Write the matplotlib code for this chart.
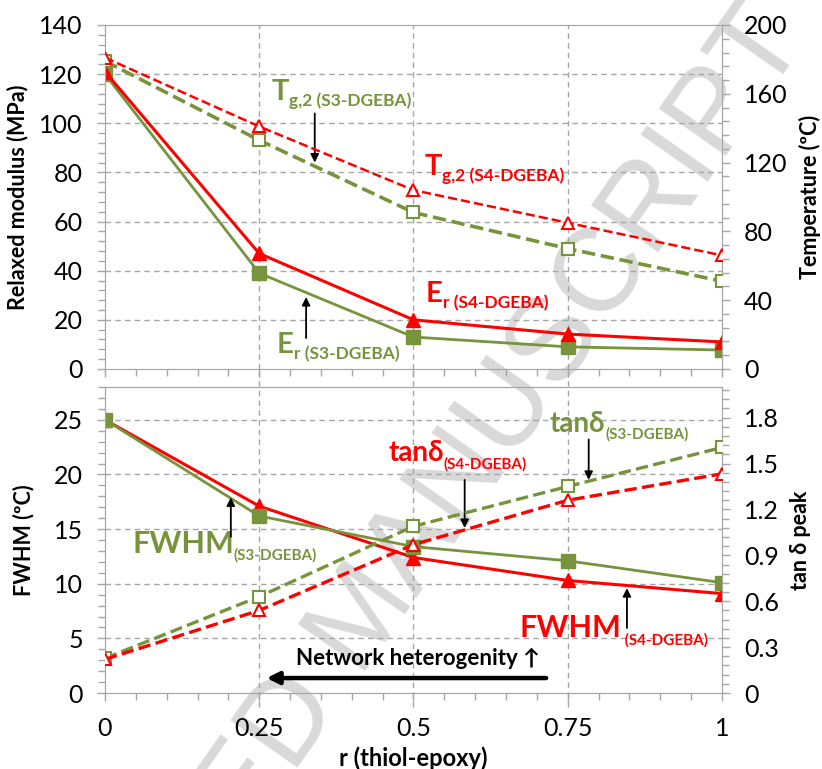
import numpy as np
import matplotlib
matplotlib.use("Agg")
import matplotlib.pyplot as plt
from matplotlib.ticker import AutoMinorLocator, MultipleLocator, FixedLocator

plt.rcParams['font.family'] = ['Lato', 'DejaVu Sans']

GREEN = '#77933C'
RED = '#FF0000'
GRID = '#A6A6A6'

r = [0, 0.25, 0.5, 0.75, 1]
r_labels = ['0', '0.25', '0.5', '0.75', '1']

# top panel
Er_S3 = [120, 39, 13, 9.0, 7.7]
Er_S4 = [121, 47, 20, 14.2, 11]
Tg2_S3 = [179, 133, 91, 70, 51]
Tg2_S4 = [181, 141, 104, 85, 66]

# bottom panel
FWHM_S3 = [25.0, 16.2, 13.4, 12.1, 10.1]
FWHM_S4 = [25.0, 17.1, 12.4, 10.3, 9.1]
tand_S3 = [0.227, 0.63, 1.09, 1.35, 1.605]
tand_S4 = [0.22, 0.54, 0.97, 1.26, 1.433]

fig = plt.figure(figsize=(8.22, 7.69), dpi=100)
ax1 = fig.add_axes([0.1277, 0.5202, 0.7506, 0.4473])
ax3 = fig.add_axes([0.1277, 0.0988, 0.7506, 0.3979])
ax2 = ax1.twinx()
ax4 = ax3.twinx()
for a in (ax1, ax2, ax3, ax4):
    a.set_facecolor('none')
    for s in a.spines.values():
        s.set_color(GRID)
    a.tick_params(colors=GRID, labelcolor='black', labelsize=18, width=1, length=6, pad=10)
    a.tick_params(which='minor', colors=GRID, width=1, length=5)

# watermark
ax1.text(0.445, 0.196, 'ACCEPTED MANUSCRIPT', transform=fig.transFigure, rotation=55,
         ha='center', va='center', rotation_mode='anchor', fontsize=85,
         color='#D9D9D9', family=['Liberation Sans'], zorder=0.1, clip_on=False)

# axes limits / ticks
for a in (ax1, ax3):
    a.set_xlim(0, 1)
    a.xaxis.set_major_locator(FixedLocator(r))
    a.xaxis.set_minor_locator(MultipleLocator(0.05))
ax1.set_ylim(0, 140)
ax1.yaxis.set_major_locator(MultipleLocator(20))
ax1.yaxis.set_minor_locator(AutoMinorLocator(5))
ax2.set_ylim(0, 200)
ax2.yaxis.set_major_locator(MultipleLocator(40))
ax2.yaxis.set_minor_locator(AutoMinorLocator(5))
ax3.set_ylim(0, 28)
ax3.yaxis.set_major_locator(FixedLocator([0, 5, 10, 15, 20, 25]))
ax3.yaxis.set_minor_locator(MultipleLocator(1))
ax4.set_ylim(0, 2.0)
ax4.yaxis.set_major_locator(FixedLocator([0, 0.3, 0.6, 0.9, 1.2, 1.5, 1.8]))
ax4.yaxis.set_minor_locator(MultipleLocator(0.06))
ax4.set_yticklabels(['0', '0.3', '0.6', '0.9', '1.2', '1.5', '1.8'])

ax1.tick_params(axis='x', labelbottom=False)
ax3.set_xticks(r, r_labels)
ax3.tick_params(axis='x', pad=11)

# grid
for y in range(20, 140, 20):
    ax1.axhline(y, color=GRID, ls=(0, (4, 3)), lw=1, zorder=0.5)
for y in [5, 10, 15, 20, 25]:
    ax3.axhline(y, color=GRID, ls=(0, (4, 3)), lw=1, zorder=0.5)
for x in [0.25, 0.5, 0.75]:
    ax1.axvline(x, color=GRID, ls=(0, (4, 3)), lw=1, zorder=0.5)
    ax3.axvline(x, ymin=-0.045, ymax=1.06, color=GRID, ls=(0, (4, 3)), lw=1,
                zorder=0.5, clip_on=False)

# data
ax1.plot(r, Er_S3, '-s', color=GREEN, lw=2, ms=10, mec=GREEN, zorder=3)
ax1.plot(r, Er_S4, '-^', color=RED, lw=2.2, ms=10, mec=RED, zorder=4)
ax2.plot(r, Tg2_S3, '--s', color=GREEN, lw=2.6, ms=9, mfc='white', mew=1.5, zorder=3)
ax2.plot(r, Tg2_S4, '--^', color=RED, lw=1.8, ms=9, mfc='white', mew=1.5, zorder=4)

ax3.plot(r, FWHM_S4, '-^', color=RED, lw=2.2, ms=10, mec=RED, zorder=3)
ax3.plot(r, FWHM_S3, '-s', color=GREEN, lw=2, ms=10, mec=GREEN, zorder=4)
ax4.plot(r, tand_S3, '--s', color=GREEN, lw=2.4, ms=9, mfc='white', mew=1.5, zorder=3)
ax4.plot(r, tand_S4, '--^', color=RED, lw=2.4, ms=9, mfc='white', mew=1.5, zorder=4)

# axis labels
lab_kw = dict(fontsize=15.5, fontweight='bold')
ax1.set_ylabel('Relaxed modulus (MPa)', labelpad=8, **lab_kw)
ax2.set_ylabel('Temperature (ºC)', labelpad=8, **lab_kw)
ax3.set_ylabel('FWHM (ºC)', labelpad=14, **lab_kw)
ax4.set_ylabel('tan δ peak', labelpad=8, **lab_kw)
ax3.set_xlabel('r (thiol-epoxy)', fontsize=17, fontweight='bold')
ax3.xaxis.set_label_coords(0.5, -0.175)


def lab(ax, x, y, main, sub, color, ms, ss, dy=-3):
    t = ax.text(x, y, main, color=color, fontsize=ms, fontweight='bold',
                ha='left', va='baseline', zorder=6)
    ax.annotate(sub, xy=(1, 0), xycoords=t, xytext=(0, dy), textcoords='offset points',
                color=color, fontsize=ss, fontweight='bold', ha='left', va='bottom',
                zorder=6)


def arrow(ax, x, y0, y1):
    ax.annotate('', xy=(x, y1), xytext=(x, y0),
                arrowprops=dict(arrowstyle='-|>', color='black', lw=1.3,
                                mutation_scale=12, shrinkA=0, shrinkB=0), zorder=6)


lab(ax1, 0.27, 109.5, 'T', 'g,2 (S3-DGEBA)', GREEN, 21, 12.5)
arrow(ax1, 0.340, 104, 84)
lab(ax1, 0.518, 79, 'T', 'g,2 (S4-DGEBA)', RED, 21, 12.5)
lab(ax1, 0.52, 27.3, 'E', 'r (S4-DGEBA)', RED, 21, 12.5)
lab(ax1, 0.279, 6.5, 'E', 'r (S3-DGEBA)', GREEN, 21, 12.5)
arrow(ax1, 0.326, 12.6, 29.3)

lab(ax3, 0.721, 23.9, 'tanδ', '(S3-DGEBA)', GREEN, 20, 11, dy=-3.5)
arrow(ax3, 0.784, 23.2, 19.5)
lab(ax3, 0.459, 21.2, 'tanδ', '(S4-DGEBA)', RED, 20, 11, dy=-3.5)
arrow(ax3, 0.583, 19.5, 15.1)
lab(ax3, 0.044, 12.8, 'FWHM', '(S3-DGEBA)', GREEN, 22, 11, dy=-3.5)
arrow(ax3, 0.204, 14.3, 17.9)
lab(ax3, 0.672, 5.1, 'FWHM', ' (S4-DGEBA)', RED, 22, 11, dy=-3.5)
arrow(ax3, 0.846, 5.95, 9.6)

ax3.text(0.309, 2.56, 'Network heterogenity ↑', fontsize=16, fontweight='bold',
         ha='left', va='baseline', zorder=6)
ax3.annotate('', xy=(0.262, 1.37), xytext=(0.715, 1.37),
             arrowprops=dict(arrowstyle='-|>', color='black', lw=3.2,
                             mutation_scale=18, shrinkA=0, shrinkB=0), zorder=6)

fig.savefig('out.png', dpi=100)
